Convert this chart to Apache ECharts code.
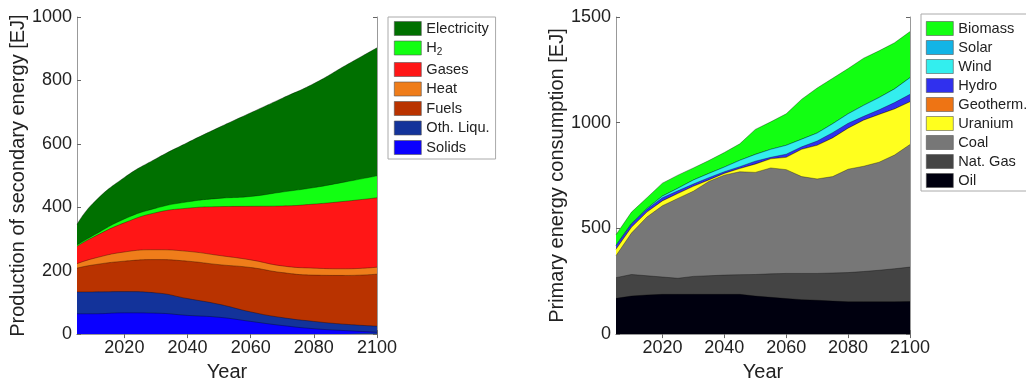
<!DOCTYPE html>
<html><head><meta charset="utf-8">
<script src="https://cdn.jsdelivr.net/npm/echarts@6/dist/echarts.min.js"></script>
<style>html,body{margin:0;padding:0;background:#fff}#c{width:1026px;height:387px}</style>
</head><body><div id="c"></div>
<script>
// ---------- Left chart: production of secondary energy [EJ] ----------
const yearsSec   = [2005, 2010, 2020, 2030, 2040, 2050, 2060, 2070, 2080, 2090, 2100];
const solids     = [64, 64, 67, 66, 59, 53, 40, 27, 17, 11, 6];
const othLiqu    = [69, 69, 67, 64, 53, 41, 30, 25, 23, 20, 19];
const fuels      = [75, 85, 96, 105, 118, 125, 140, 142, 146, 154, 164];
const heat       = [14, 20, 29, 31, 31, 29, 24, 21, 22, 21, 22];
const gases      = [55, 67, 92, 117, 136, 154, 169, 189, 202, 213, 219];
const h2         = [4, 5, 12, 14, 20, 26, 31, 44, 52, 61, 69];
const electricity= [65, 102, 131, 156, 187, 224, 264, 296, 328, 367, 404];
const secNames   = ['Solids', 'Oth. Liqu.', 'Fuels', 'Heat', 'Gases', 'H2', 'Electricity'];
const secColors  = ['#0a00ff', '#13339a', '#b93300', '#ef7d1a', '#ff1616', '#12ff12', '#007000'];

// ---------- Right chart: primary energy consumption [EJ] ----------
const yearsPri = [2005, 2010, 2015, 2020, 2025, 2030, 2035, 2040, 2045, 2050,
                  2055, 2060, 2065, 2070, 2075, 2080, 2085, 2090, 2095, 2100];
const oil      = [169, 180, 185, 188, 188, 188, 188, 188, 188, 180, 174, 168, 163, 160, 156, 153, 153, 153, 153, 154];
const natGas   = [98, 102, 91, 82, 76, 85, 88, 91, 93, 102, 111, 119, 124, 127, 133, 138, 143, 149, 156, 163];
const coal     = [104, 196, 278, 337, 378, 403, 446, 473, 487, 483, 501, 491, 458, 447, 456, 489, 498, 511, 538, 580];
const uranium  = [30, 27, 23, 23, 23, 23, 7, 8, 15, 39, 43, 58, 129, 159, 183, 194, 218, 226, 218, 202];
const geotherm = [0, 0, 0, 0, 0, 0, 0, 0, 0, 0, 0, 0, 0, 0, 0, 0, 0, 0, 0, 0];
const hydro    = [16, 15, 13, 15, 13, 11, 11, 8, 9, 14, 7, 15, 12, 20, 25, 23, 18, 22, 30, 35];
const wind     = [3, 3, 4, 8, 12, 19, 20, 22, 30, 32, 38, 42, 36, 38, 42, 45, 52, 58, 65, 79];
const solar    = [0, 0, 0, 0, 0, 0, 0, 0, 0, 0, 0, 0, 0, 0, 0, 0, 0, 0, 0, 0];
const biomass  = [50, 54, 51, 61, 62, 57, 61, 69, 78, 118, 130, 149, 189, 213, 215, 214, 223, 221, 218, 218];
const priNames  = ['Oil', 'Nat. Gas', 'Coal', 'Uranium', 'Geotherm.', 'Hydro', 'Wind', 'Solar', 'Biomass'];
const priColors = ['#00000f', '#444444', '#777777', '#ffff1e', '#ee7414', '#3030ee', '#33eeee', '#12b4e6', '#12ff12'];

const xTicks = [2020, 2040, 2060, 2080, 2100];

const secData = [solids, othLiqu, fuels, heat, gases, h2, electricity];
const priData = [oil, natGas, coal, uranium, geotherm, hydro, wind, solar, biomass];

const FONT = 'Liberation Sans, Arial, sans-serif';
const TXT = '#222';

// running totals (stack tops) computed from the layer arrays
function cumulate(layers) {
  const out = [];
  let run = layers[0].map(() => 0);
  layers.forEach(l => { run = run.map((v, i) => v + l[i]); out.push(run.slice()); });
  return out;
}

function mkSeries(name, tops, years, color, xi, yi, smooth, z) {
  return {
    type: 'line', name, xAxisIndex: xi, yAxisIndex: yi, smooth,
    symbol: 'none', silent: true, z,
    data: years.map((y, i) => [y, tops[i]]),
    lineStyle: { width: 0.6, color: 'rgba(0,0,0,0.55)' },
    areaStyle: { color: color, opacity: 1, origin: 'start' },
    itemStyle: { color: color },
    emphasis: { disabled: true }
  };
}

function xAxisPair(gi) {
  const base = { type: 'value', gridIndex: gi, min: 2005, max: 2100, splitLine: { show: false },
    axisLine: { show: true, lineStyle: { color: '#999', width: 1 } } };
  return [
    Object.assign({}, base, {
      position: 'bottom',
      name: 'Year', nameLocation: 'middle', nameGap: 19,
      nameTextStyle: { fontFamily: FONT, fontSize: 20, color: TXT },
      axisTick: { show: true, inside: true, length: 4, customValues: xTicks, lineStyle: { color: '#666' } },
      axisLabel: { show: true, margin: 5, fontFamily: FONT, fontSize: 18, color: TXT, customValues: xTicks,
                   formatter: v => String(v) }
    }),
    Object.assign({}, base, {
      position: 'top',
      axisTick: { show: true, inside: true, length: 4, customValues: xTicks, lineStyle: { color: '#666' } },
      axisLabel: { show: false, customValues: xTicks }
    })
  ];
}

function yAxisPair(gi, max, interval, name, gap) {
  const base = { type: 'value', gridIndex: gi, min: 0, max, interval, splitLine: { show: false },
    axisLine: { show: true, lineStyle: { color: '#999', width: 1 } },
    axisTick: { show: true, inside: true, length: 4, lineStyle: { color: '#666' } } };
  return [
    Object.assign({}, base, {
      position: 'left', name, nameLocation: 'middle', nameGap: gap,
      nameTextStyle: { fontFamily: FONT, fontSize: 20, color: TXT },
      axisLabel: { margin: 5, fontFamily: FONT, fontSize: 18, color: TXT, formatter: v => String(v) }
    }),
    Object.assign({}, base, { position: 'right', axisLabel: { show: false } })
  ];
}

const series = [];
const secTops = cumulate(secData);
const priTops = cumulate(priData);
// draw the highest stack top first so lower layers paint over it
for (let i = secNames.length - 1; i >= 0; i--)
  series.push(mkSeries(secNames[i], secTops[i], yearsSec, secColors[i], 0, 0, true, 2 + (secNames.length - i) * 0.01));
for (let i = priNames.length - 1; i >= 0; i--)
  series.push(mkSeries(priNames[i], priTops[i], yearsPri, priColors[i], 2, 2, false, 2 + (priNames.length - i) * 0.01));

const legendCommon = {
  orient: 'vertical', icon: 'rect', itemWidth: 27, itemHeight: 14, itemGap: 5,
  borderColor: '#aaa', borderWidth: 1, borderRadius: 0, backgroundColor: '#fff',
  selectedMode: false,
  itemStyle: { borderColor: '#555', borderWidth: 0.6 },
  textStyle: { fontFamily: FONT, fontSize: 14.6, color: TXT, lineHeight: 14,
    rich: { sub: { fontFamily: FONT, fontSize: 10, color: TXT, padding: [9, 0, 0, 0] } } }
};

const option = {
  animation: false,
  backgroundColor: '#fff',
  grid: [
    { left: 77, right: 649, top: 17, bottom: 42, containLabel: false },
    { left: 616, right: 116, top: 17, bottom: 42, containLabel: false }
  ],
  xAxis: [...xAxisPair(0), ...xAxisPair(1)],
  yAxis: [...yAxisPair(0, 1000, 200, 'Production of secondary energy [EJ]', 43),
          ...yAxisPair(1, 1500, 500, 'Primary energy consumption [EJ]', 44)],
  legend: [
    Object.assign({}, legendCommon, {
      left: 388, top: 17, padding: [4, 6, 4, 6], itemGap: 4.5,
      data: secNames.slice().reverse(),
      formatter: n => n === 'H2' ? 'H{sub|2}' : n
    }),
    Object.assign({}, legendCommon, {
      left: 921, top: 14, padding: [7, 6, 3, 5], itemGap: 4,
      data: priNames.slice().reverse()
    })
  ],
  series
};

const chart = echarts.init(document.getElementById('c'), null, { renderer: 'canvas' });
chart.setOption(option);
</script>
</body></html>
